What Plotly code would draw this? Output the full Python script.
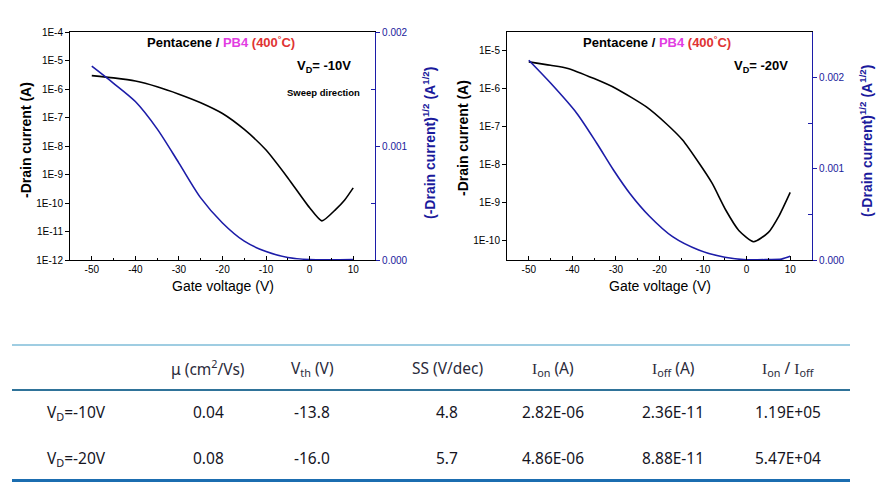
import plotly.graph_objects as go

W, H = 886, 482

# ---------------- data ----------------
# V_D = -10 V
vg_10_log = [-50, -45, -40, -35, -30, -25, -20, -15, -10, -5, 0, 2.8, 6, 8, 10]
id_10 = [2.95e-6, 2.45e-6, 1.90e-6, 1.20e-6, 6.6e-7, 3.3e-7, 1.38e-7, 3.8e-8,
         7.2e-9, 7.6e-10, 6.8e-11, 2.36e-11, 6.0e-11, 1.25e-10, 3.4e-10]
vg_10_sqrt = [-50, -45, -40, -35, -30, -25, -20, -15, -10, -5, 0, 5, 10]
sq_10 = [0.00170, 0.00155, 0.00139, 0.00115, 0.00085, 0.000545, 0.000325, 0.000165,
         0.000074, 0.000022, 0.000004, 0.000002, 0.000004]

# V_D = -20 V
vg_20_log = [-50, -45, -41, -35, -30, -23, -18.5, -14.7, -10.9, -7.9, -4.8, -1.8, 1.6, 5, 7.5, 10]
id_20 = [4.9e-6, 4.0e-6, 3.3e-6, 1.78e-6, 9.8e-7, 3.2e-7, 1.17e-7, 4.3e-8,
         1.05e-8, 3.1e-9, 6.2e-10, 1.8e-10, 9.1e-11, 1.6e-10, 4.5e-10, 1.8e-9]
vg_20_sqrt = [-50, -45, -39, -34.4, -30.6, -26.8, -22.3, -17, -11, -5, 0, 5, 8, 10]
sq_20 = [0.00219, 0.00194, 0.00161, 0.00128, 0.00099, 0.00073, 0.00048, 0.000256,
         0.00011, 0.00003, 0.000003, 0.000005, 0.00001, 0.00004]

x_ticks = [-50, -40, -30, -20, -10, 0, 10]
x_text = ["-50", "-40", "-30", "-20", "-10", "0", "10"]
log_ticks_1 = [1e-4, 1e-5, 1e-6, 1e-7, 1e-8, 1e-9, 1e-10, 1e-11, 1e-12]
log_text_1 = ["1E-4", "1E-5", "1E-6", "1E-7", "1E-8", "1E-9", "1E-10", "1E-11", "1E-12"]
log_ticks_2 = [1e-5, 1e-6, 1e-7, 1e-8, 1e-9, 1e-10]
log_text_2 = ["1E-5", "1E-6", "1E-7", "1E-8", "1E-9", "1E-10"]
sq_ticks = [0, 0.001, 0.002]
sq_text = ["0.000", "0.001", "0.002"]

# table
tbl_header = ["μ (cm<sup>2</sup>/Vs)", "V<sub>th</sub> (V)", "SS (V/dec)",
              "<span style='font-family:Liberation Serif'>I</span><sub>on</sub> (A)",
              "<span style='font-family:Liberation Serif'>I</span><sub>off</sub> (A)",
              "<span style='font-family:Liberation Serif'>I</span><sub>on</sub> / "
              "<span style='font-family:Liberation Serif'>I</span><sub>off</sub>"]
tbl_rows = ["V<sub>D</sub>=-10V", "V<sub>D</sub>=-20V"]
tbl_mu = ["0.04", "0.08"]
tbl_vth = ["-13.8", "-16.0"]
tbl_ss = ["4.8", "5.7"]
tbl_ion = ["2.82E-06", "4.86E-06"]
tbl_ioff = ["2.36E-11", "8.88E-11"]
tbl_ratio = ["1.19E+05", "5.47E+04"]

# ---------------- helpers ----------------
def px(x):
    return x / W

def py(y):
    return 1 - y / H

BLUE = "#1c1ca8"
BLUE_TXT = "#1a1a9c"
TICKF = "Liberation Sans, Arial, sans-serif"

fig = go.Figure()
fig.add_trace(go.Scatter(x=vg_10_log, y=id_10, mode="lines", xaxis="x", yaxis="y",
                         line=dict(color="black", width=1.6, shape="spline", smoothing=0.6),
                         showlegend=False))
fig.add_trace(go.Scatter(x=vg_10_sqrt, y=sq_10, mode="lines", xaxis="x", yaxis="y2",
                         line=dict(color=BLUE, width=1.6, shape="spline", smoothing=0.8),
                         showlegend=False))
fig.add_trace(go.Scatter(x=vg_20_log, y=id_20, mode="lines", xaxis="x2", yaxis="y3",
                         line=dict(color="black", width=1.6, shape="spline", smoothing=0.6),
                         showlegend=False))
fig.add_trace(go.Scatter(x=vg_20_sqrt, y=sq_20, mode="lines", xaxis="x2", yaxis="y4",
                         line=dict(color=BLUE, width=1.6, shape="spline", smoothing=0.8),
                         showlegend=False))

ydom = [py(260), py(32)]

def xax(dom, anchor):
    return dict(domain=dom, anchor=anchor, range=[-55, 15], tickvals=x_ticks, ticktext=x_text,
                ticks="inside", ticklen=4, tickcolor="black", automargin=False,
                minor=dict(tickvals=[-45, -35, -25, -15, -5, 5], ticks="inside", ticklen=2, tickcolor="black"),
                showline=True, linecolor="black", linewidth=1, mirror=True,
                showgrid=False, zeroline=False,
                tickfont=dict(family=TICKF, size=10, color="black"))

def ylog(rng, tv, tt, anchor):
    return dict(domain=ydom, anchor=anchor, type="log", range=rng, tickvals=tv, ticktext=tt,
                ticks="outside", ticklen=4, tickcolor="black", automargin=False,
                showline=True, linecolor="black", linewidth=1, mirror=False,
                showgrid=False, zeroline=False,
                tickfont=dict(family=TICKF, size=10, color="black"))

def ysq(rng, over, anchor, minor_vals):
    return dict(overlaying=over, anchor=anchor, side="right", range=rng,
                tickvals=sq_ticks, ticktext=sq_text, automargin=False,
                ticks="outside", ticklen=4, tickcolor=BLUE,
                minor=dict(tickvals=minor_vals, ticks="inside", ticklen=4, tickcolor=BLUE),
                showline=True, linecolor=BLUE, linewidth=1.2,
                showgrid=False, zeroline=False,
                tickfont=dict(family=TICKF, size=10, color=BLUE_TXT))

fig.update_layout(
    width=W, height=H, margin=dict(l=0, r=0, t=0, b=0, pad=0, autoexpand=False),
    paper_bgcolor="white", plot_bgcolor="white",
    xaxis=xax([px(70), px(375)], "y"),
    xaxis2=xax([px(507), px(812)], "y3"),
    yaxis=ylog([-12, -4], log_ticks_1, log_text_1, "x"),
    yaxis2=ysq([0, 0.002], "y", "x", [0.0005, 0.0015]),
    yaxis3=ylog([-10.523, -4.523], log_ticks_2, log_text_2, "x2"),
    yaxis4=ysq([0, 0.0025], "y3", "x2", [0.0005, 0.0015]),
)

ann = []
def A(x, y, text, size=12, color="black", family=TICKF, angle=0, xanchor="center"):
    ann.append(dict(x=px(x), y=py(y), xref="paper", yref="paper", text=text, showarrow=False,
                    xanchor=xanchor, yanchor="middle", textangle=angle,
                    font=dict(size=size, color=color, family=family)))

title_txt = ("<b>Pentacene / <span style='color:#e23de2'>PB4</span> "
             "<span style='color:#e03333'>(400<sup>°</sup>C)</span></b>")
A(221, 42, title_txt, 13)
A(657, 42, title_txt, 13)
A(324, 67, "<b>V<sub>D</sub>= -10V</b>", 13)
A(323, 93, "<b>Sweep direction</b>", 9.5)
A(761, 67, "<b>V<sub>D</sub>= -20V</b>", 13)

A(26, 140, "<b>-Drain current (A)</b>", 14, angle=-90)
A(463, 138, "<b>-Drain current (A)</b>", 14, angle=-90)
A(429, 143, "<b>(-Drain current)<sup>1/2</sup> (A<sup>1/2</sup>)</b>", 14, color=BLUE_TXT, angle=-90)
A(866, 141, "<b>(-Drain current)<sup>1/2</sup> (A<sup>1/2</sup>)</b>", 14, color=BLUE_TXT, angle=-90)
A(223, 286, "Gate voltage (V)", 14)
A(660, 286, "Gate voltage (V)", 14)

# table text
TF = "Noto Sans, Open Sans, sans-serif"
col_x = [208, 312, 447, 553, 673, 788]
for cx, h in zip(col_x, tbl_header):
    A(cx, 368, h, 15.5, color="#2a2a3a", family=TF)
row_y = [412, 458]
cols = [tbl_mu, tbl_vth, tbl_ss, tbl_ion, tbl_ioff, tbl_ratio]
for i, ry in enumerate(row_y):
    A(45, ry, tbl_rows[i], 15.5, color="#15151f", family=TF, xanchor="left")
    for cx, col in zip(col_x, cols):
        A(cx, ry, col[i], 15.5, color="#15151f", family=TF)
fig.update_layout(annotations=ann)

shapes = [
    dict(type="line", xref="paper", yref="paper", x0=px(12), x1=px(850), y0=py(345), y1=py(345),
         line=dict(color="#7fbcd8", width=1.5)),
    dict(type="line", xref="paper", yref="paper", x0=px(12), x1=px(850), y0=py(390), y1=py(390),
         line=dict(color="#2f7399", width=2)),
    dict(type="line", xref="paper", yref="paper", x0=px(12), x1=px(850), y0=py(480.5), y1=py(480.5),
         line=dict(color="#1b6db0", width=3)),
]
fig.update_layout(shapes=shapes)

fig.write_html("out.html", config={"displayModeBar": False},
               post_script="document.body.style.margin='0px';document.body.style.overflow='hidden';")
